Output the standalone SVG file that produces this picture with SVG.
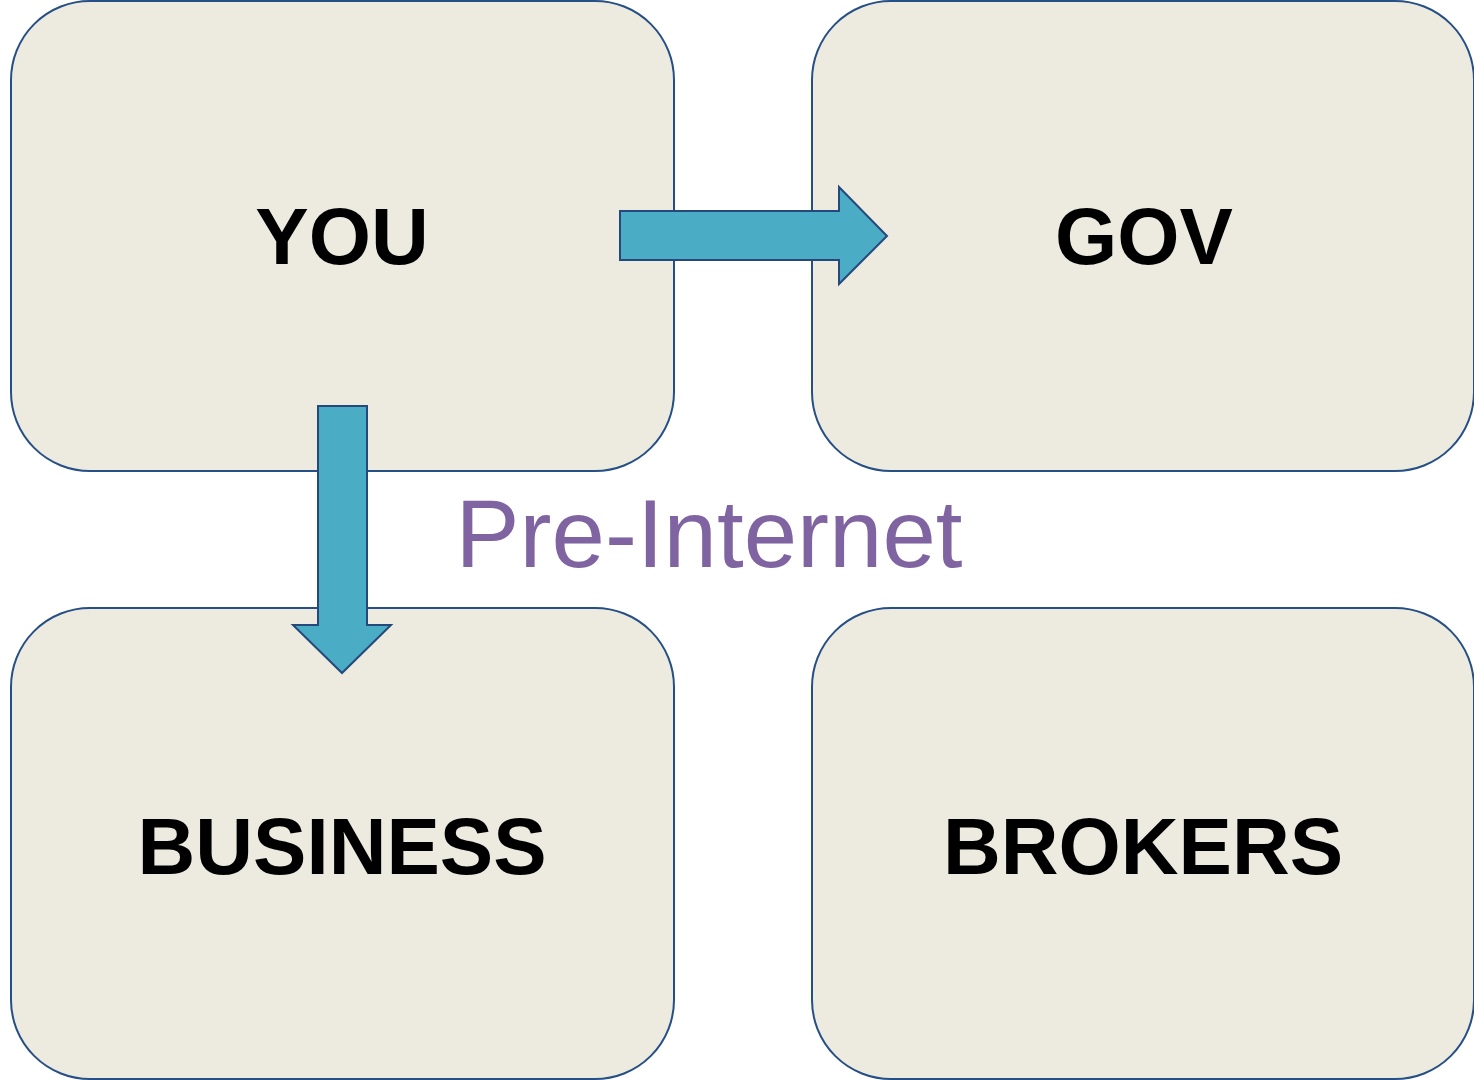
<svg xmlns="http://www.w3.org/2000/svg" width="1474" height="1080" viewBox="0 0 1474 1080">
<style>
.box{fill:#EDEBE0;stroke:#264F85;stroke-width:2}
.lbl{font-family:"Liberation Sans",Arial,sans-serif;font-weight:bold;font-size:80px;fill:#000;text-anchor:middle}
.arr{fill:#4BACC6;stroke:#24497A;stroke-width:2;stroke-linejoin:miter}
.cap{font-family:"Liberation Sans",Arial,sans-serif;font-size:96px;fill:#8064A2;text-anchor:middle}
</style>
<rect width="1474" height="1080" fill="#fff"/>
<g id="you"><rect class="box" x="11" y="1" width="663" height="470" rx="79" ry="79"/><text class="lbl" x="342" y="264">YOU</text></g>
<g id="gov"><rect class="box" x="812" y="1" width="662" height="470" rx="79" ry="79"/><text class="lbl" x="1144" y="264">GOV</text></g>
<g id="business"><rect class="box" x="11" y="608" width="663" height="471" rx="79" ry="79"/><text class="lbl" x="342" y="874">BUSINESS</text></g>
<g id="brokers"><rect class="box" x="812" y="608" width="662" height="471" rx="79" ry="79"/><text class="lbl" x="1143" y="874">BROKERS</text></g>
<g id="connectors">
<polygon class="arr" points="620,211 839,211 839,187 887,236 839,284 839,260 620,260"/>
<polygon class="arr" points="318,406 367,406 367,625 391,625 342,673 293,625 318,625"/>
</g>
<text class="cap" x="709" y="567">Pre-Internet</text>
</svg>
